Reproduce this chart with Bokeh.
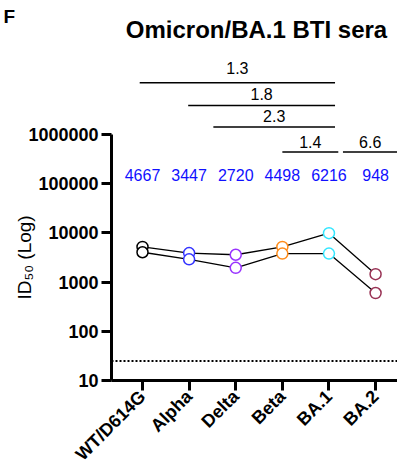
import numpy as np
from bokeh.plotting import figure
from bokeh.models import Range1d, FixedTicker, NumeralTickFormatter, Label, Span, Title
from bokeh.embed import file_html
from bokeh.resources import INLINE
from bokeh.core.properties import value

# ---------------- data ----------------
variants = ["WT/D614G", "Alpha", "Delta", "Beta", "BA.1", "BA.2"]
marker_colors = ["#000000", "#3333ff", "#9933ff", "#ff8c1a", "#33e6ff", "#993355"]
serum_1 = [5200, 3900, 3600, 5200, 9900, 1450]
serum_2 = [4050, 2900, 1950, 3800, 3800, 600]
gmt = [4667, 3447, 2720, 4498, 6216, 948]
fold_labels = ["1.3", "1.8", "2.3", "1.4", "6.6"]
fold_from = [0, 1, 2, 3, 4]
fold_to = [4, 4, 4, 4, 5]
lod = 25
y_ticks = [10, 100, 1000, 10000, 100000, 1000000]

# ---------------- layout ----------------
W, H = 397, 474
FRAME_L, FRAME_R, FRAME_T, FRAME_B = 111, 397, 20, 383
X0, X1 = -0.665, 5.47
DEC_PX = 49.6
Y0 = 10.0
Y1 = 10 ** (1 + (FRAME_B - FRAME_T) / DEC_PX)
FONT = "Liberation Sans"


def px_x(px):
    return X0 + (px - FRAME_L) * (X1 - X0) / (FRAME_R - FRAME_L)


def px_y(py):
    return 10 ** (np.log10(Y0) + (FRAME_B - py) / DEC_PX)


p = figure(width=W, height=H, x_range=Range1d(X0, X1), y_range=Range1d(Y0, Y1),
           y_axis_type="log", output_backend="svg", toolbar_location=None,
           min_border_left=FRAME_L, min_border_right=W - FRAME_R,
           min_border_top=FRAME_T, min_border_bottom=H - FRAME_B)
p.outline_line_color = None
p.grid.visible = False
p.background_fill_color = "white"
p.border_fill_color = "white"

# panel letter as the figure title
p.title.text = "F"
p.title.align = "left"
p.title.offset = -108
p.title.standoff = -13
p.title.text_font = FONT
p.title.text_font_style = "bold"
p.title.text_font_size = "19px"
p.title.text_color = "black"
p.title.text_line_height = 1.0

xs = list(range(len(variants)))

# LOD dotted line
p.add_layout(Span(location=lod, dimension="width", line_color="black",
                  line_width=2, line_dash="2 2"))

# paired lines
p.line(xs, serum_1, line_color="black", line_width=1.3)
p.line(xs, serum_2, line_color="black", line_width=1.3)
p.scatter(xs, serum_1, marker="circle", size=11, fill_color="white",
          line_color=marker_colors, line_width=1.5)
p.scatter(xs, serum_2, marker="circle", size=11, fill_color="white",
          line_color=marker_colors, line_width=1.5)

# GMT labels
p.text(x=xs, y=[px_y(175.7)] * len(xs), text=[str(g) for g in gmt],
       text_align="center", text_baseline="middle",
       text_color="#1010ff", text_font=value(FONT), text_font_size="16px")

# fold-change brackets
start_off = [-0.06, -0.02, -0.48, 0.0, 0.3]
end_off = [0.13, 0.13, 0.13, 0.2, 0.47]
line_py = [82.7, 105.7, 127.3, 152.7, 152.7]
text_py = [67.8, 94.5, 116.3, 142.5, 142.5]
bx0 = [f + o for f, o in zip(fold_from, start_off)]
bx1 = [t + o for t, o in zip(fold_to, end_off)]
by = [px_y(v) for v in line_py]
p.segment(x0=bx0, y0=by, x1=bx1, y1=by, line_color="black", line_width=1.5)
p.text(x=[(a + b) / 2 for a, b in zip(bx0, bx1)], y=[px_y(v) for v in text_py],
       text=fold_labels, text_align="center", text_baseline="middle",
       text_color="black", text_font=value(FONT), text_font_size="16px")

# axes
yax = p.yaxis[0]
yax.ticker = FixedTicker(ticks=y_ticks, minor_ticks=[])
yax.formatter = NumeralTickFormatter(format="0")
yax.bounds = (10, 1000000)
xax = p.xaxis[0]
xax.ticker = FixedTicker(ticks=xs, minor_ticks=[])
xax.major_label_overrides = {i: v for i, v in enumerate(variants)}
xax.major_label_orientation = np.pi / 4
for ax in (yax, xax):
    ax.axis_line_width = 3
    ax.axis_line_color = "black"
    ax.major_tick_line_width = 3
    ax.major_tick_line_color = "black"
    ax.major_tick_out = 10
    ax.major_tick_in = 0
    ax.minor_tick_line_color = None
    ax.major_label_text_font = FONT
    ax.major_label_text_font_style = "bold"
    ax.major_label_text_font_size = "18px"
    ax.major_label_text_color = "black"
    ax.major_label_standoff = 3

# y-axis title as a rotated side title
p.add_layout(Title(text="ID\u2085\u2080 (Log)", align="left", offset=81, standoff=-18,
                   text_font=FONT, text_font_style="normal", text_font_size="19px",
                   text_color="black"), "left")

# chart title inside the top area
p.add_layout(Label(x=px_x(256), y=px_y(29), text="Omicron/BA.1 BTI sera",
                   text_align="center", text_baseline="middle", text_color="black",
                   text_font=FONT, text_font_style="bold", text_font_size="24px"))

open("out.html", "w").write(file_html(p, INLINE))
